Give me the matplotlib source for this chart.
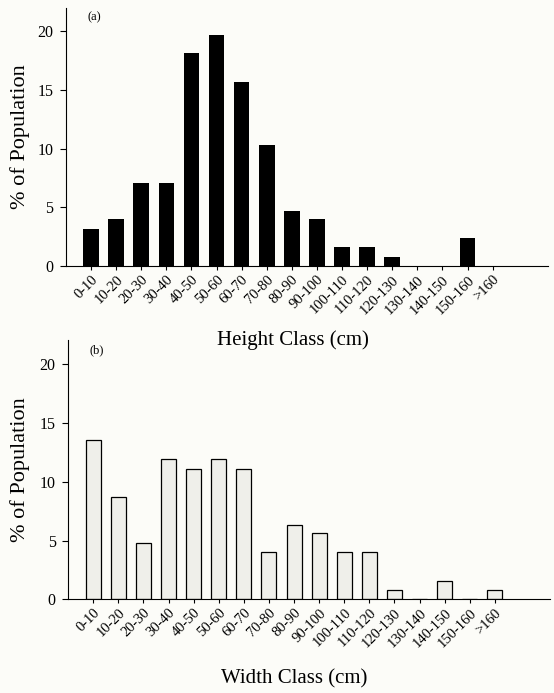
import matplotlib
matplotlib.use("Agg")
import matplotlib.pyplot as plt
import numpy as np

classes = ["0-10", "10-20", "20-30", "30-40", "40-50", "50-60", "60-70",
           "70-80", "80-90", "90-100", "100-110", "110-120", "120-130",
           "130-140", "140-150", "150-160", ">160"]

height_pct = [3.2, 4.0, 7.1, 7.1, 18.1, 19.7, 15.7, 10.3, 4.7, 4.0,
              1.6, 1.6, 0.8, 0.0, 0.0, 2.4, 0.0]
width_pct = [13.5, 8.7, 4.8, 11.9, 11.1, 11.9, 11.1, 4.0, 6.3, 5.6,
             4.0, 4.0, 0.8, 0.0, 1.6, 0.0, 0.8]

plt.rcParams["font.family"] = ["Liberation Serif", "DejaVu Serif"]

bg = "#fcfcf8"
fig = plt.figure(figsize=(5.54, 6.93), dpi=100)
fig.patch.set_facecolor(bg)

ax1 = fig.add_axes([0.119, 0.616, 0.870, 0.373])
ax2 = fig.add_axes([0.123, 0.135, 0.870, 0.374])
# top panel's xlabel sits over the lower panel, keep it visible
ax1.set_zorder(2)
ax1.patch.set_alpha(0)
ax2.patch.set_alpha(0)

x = np.arange(len(classes))


def style(ax, xlabel, tag, ylab_x, xlab_y):
    ax.set_xlim(-1, 18.2)
    ax.set_ylim(0, 22)
    ax.set_yticks([0, 5, 10, 15, 20])
    ax.set_xticks(x)
    ax.set_xticklabels(classes, rotation=45, ha="right",
                       rotation_mode="anchor", fontsize=10.5)
    ax.tick_params(axis="y", labelsize=11.5, length=4, width=0.8, pad=5)
    ax.tick_params(axis="x", length=3, width=0.8, pad=2)
    for s in ("top", "right"):
        ax.spines[s].set_visible(False)
    for s in ("left", "bottom"):
        ax.spines[s].set_linewidth(0.8)
    ax.set_ylabel("% of Population", fontsize=16)
    ax.yaxis.set_label_coords(ylab_x, 0.5)
    ax.set_xlabel(xlabel, fontsize=15)
    ax.xaxis.set_label_coords(0.47, xlab_y)
    ax.text(0.045, 0.985, tag, transform=ax.transAxes, fontsize=9,
            va="top", ha="left")


ax1.bar(x, height_pct, width=0.62, color="black", linewidth=0)
style(ax1, "Height Class (cm)", "(a)", -0.075, -0.25)

ax2.bar(x, width_pct, width=0.6, color="#efefea", edgecolor="black",
        linewidth=0.9)
style(ax2, "Width Class (cm)", "(b)", -0.079, -0.27)

fig.savefig("out.png", dpi=100, facecolor=bg)
